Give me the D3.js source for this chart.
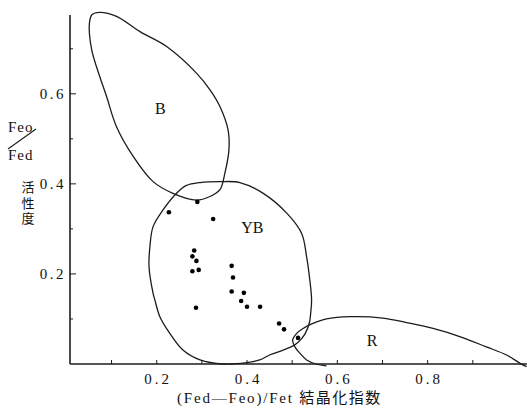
<!DOCTYPE html>
<html>
<head>
<meta charset="utf-8">
<script src="https://cdn.jsdelivr.net/npm/d3@7"></script>
<style>
  body { margin: 0; background: #fff; }
</style>
</head>
<body>
<div id="chart"></div>
<script>
// Sample points: (Fed-Feo)/Fet vs Feo/Fed
const pointsX = [0.227, 0.290, 0.325, 0.283, 0.279, 0.288, 0.279, 0.293, 0.366, 0.369,
                 0.366, 0.393, 0.387, 0.400, 0.429, 0.287, 0.471, 0.482, 0.513]
const pointsY = [0.337, 0.360, 0.322, 0.252, 0.239, 0.229, 0.206, 0.209, 0.218, 0.192,
                 0.161, 0.158, 0.140, 0.127, 0.127, 0.125, 0.090, 0.077, 0.058]

// Hand-drawn region outlines (traced)
const regionB = [
  [0.074, 0.781], [0.111, 0.772], [0.163, 0.738], [0.222, 0.705], [0.288, 0.646],
  [0.318, 0.609], [0.340, 0.572], [0.358, 0.520], [0.360, 0.476], [0.351, 0.424],
  [0.340, 0.387], [0.318, 0.372], [0.288, 0.364], [0.236, 0.379], [0.192, 0.405],
  [0.148, 0.461], [0.111, 0.527], [0.089, 0.594], [0.074, 0.638], [0.056, 0.698],
  [0.051, 0.757], [0.057, 0.776]
]
const regionYB = [
  [0.296, 0.403], [0.340, 0.405], [0.384, 0.403], [0.436, 0.379], [0.488, 0.335],
  [0.521, 0.290], [0.532, 0.238], [0.539, 0.187], [0.543, 0.142], [0.541, 0.113],
  [0.538, 0.091], [0.529, 0.068], [0.518, 0.053], [0.505, 0.042], [0.480, 0.031],
  [0.450, 0.020], [0.428, 0.009], [0.399, 0.003], [0.347, 0.000], [0.296, 0.009],
  [0.258, 0.031], [0.229, 0.068], [0.207, 0.105], [0.196, 0.142], [0.192, 0.157],
  [0.183, 0.216], [0.185, 0.261], [0.192, 0.305], [0.214, 0.342], [0.244, 0.379],
  [0.265, 0.396]
]
const regionR = [
  [0.576, -0.004], [0.553, 0.000], [0.532, 0.009], [0.517, 0.024], [0.506, 0.038],
  [0.501, 0.053], [0.510, 0.068], [0.524, 0.079], [0.546, 0.090], [0.576, 0.100],
  [0.628, 0.105], [0.701, 0.102], [0.753, 0.092], [0.812, 0.079], [0.871, 0.061],
  [0.930, 0.038], [0.975, 0.020], [1.004, 0.002], [1.019, -0.006]
]
const regionLabels = [
  { name: 'B', x: 0.208, y: 0.555 },
  { name: 'YB', x: 0.412, y: 0.290 },
  { name: 'R', x: 0.677, y: 0.040 }
]

const xMajor = [0.2, 0.4, 0.6, 0.8]
const xMinor = [0.1, 0.3, 0.5, 0.7, 0.9]
const yMajor = [0.2, 0.4, 0.6]
const yMinor = [0.1, 0.3, 0.5, 0.7]

const width = 527
const height = 411

const serif = "'Liberation Serif', 'Times New Roman', 'DejaVu Serif', serif"
const cjk = "'Noto Sans CJK JP', 'Noto Sans CJK SC', sans-serif"

const svg = d3.select('#chart').append('svg')
  .attr('width', width)
  .attr('height', height)
  .attr('font-family', serif)

const x = d3.scaleLinear().domain([0.008, 1.02]).range([70, 527])
const y = d3.scaleLinear().domain([0, 0.775]).range([364, 15])

const ink = '#1c1c1c'

// Axes
svg.append('line')
  .attr('x1', x(0.008)).attr('x2', x(1.02))
  .attr('y1', y(0)).attr('y2', y(0))
  .attr('stroke', ink).attr('stroke-width', 1.6)
svg.append('line')
  .attr('x1', x(0.008)).attr('x2', x(0.008))
  .attr('y1', y(0.775)).attr('y2', y(0))
  .attr('stroke', ink).attr('stroke-width', 1.6)

// x ticks point up, inside
svg.selectAll('.xtick')
  .data(xMajor.concat(xMinor))
  .enter().append('line')
  .attr('x1', d => x(d)).attr('x2', d => x(d))
  .attr('y1', y(0)).attr('y2', y(0) - 4)
  .attr('stroke', ink).attr('stroke-width', 1)

svg.selectAll('.xlabel')
  .data(xMajor)
  .enter().append('text')
  .attr('x', d => x(d) + 1.5)
  .attr('y', 384)
  .attr('text-anchor', 'middle')
  .attr('font-family', serif)
  .attr('font-size', 15)
  .attr('letter-spacing', 3)
  .attr('fill', '#111')
  .text(d => d.toFixed(1))

// y ticks point right, inside
svg.selectAll('.ytick')
  .data(yMajor)
  .enter().append('line')
  .attr('x1', x(0.008)).attr('x2', x(0.008) + 6)
  .attr('y1', d => y(d)).attr('y2', d => y(d))
  .attr('stroke', ink).attr('stroke-width', 1)
svg.selectAll('.ytickm')
  .data(yMinor)
  .enter().append('line')
  .attr('x1', x(0.008)).attr('x2', x(0.008) + 3)
  .attr('y1', d => y(d)).attr('y2', d => y(d))
  .attr('stroke', ink).attr('stroke-width', 1)

svg.selectAll('.ylabel')
  .data(yMajor)
  .enter().append('text')
  .attr('x', 66)
  .attr('y', d => y(d) + 5)
  .attr('text-anchor', 'end')
  .attr('font-family', serif)
  .attr('font-size', 15)
  .attr('letter-spacing', 2.5)
  .attr('fill', '#111')
  .text(d => d.toFixed(1))

// Region outlines
const line = d3.line()
  .x(d => x(d[0]))
  .y(d => y(d[1]))

svg.append('path')
  .attr('d', line.curve(d3.curveCatmullRomClosed.alpha(0.5))(regionB))
  .attr('fill', 'none').attr('stroke', ink).attr('stroke-width', 1.3)
svg.append('path')
  .attr('d', line.curve(d3.curveCatmullRomClosed.alpha(0.5))(regionYB))
  .attr('fill', 'none').attr('stroke', ink).attr('stroke-width', 1.3)
svg.append('path')
  .attr('d', line.curve(d3.curveCatmullRom.alpha(0.5))(regionR))
  .attr('fill', 'none').attr('stroke', ink).attr('stroke-width', 1.3)

svg.selectAll('.rlabel')
  .data(regionLabels)
  .enter().append('text')
  .attr('x', d => x(d.x))
  .attr('y', d => y(d.y))
  .attr('text-anchor', 'middle')
  .attr('font-family', serif)
  .attr('font-size', 16)
  .attr('fill', '#111')
  .text(d => d.name)

// Points
svg.selectAll('.pt')
  .data(pointsX)
  .enter().append('circle')
  .attr('cx', d => x(d))
  .attr('cy', (d, i) => y(pointsY[i]))
  .attr('r', 2.3)
  .attr('fill', '#000')

// Axis titles
const xt = svg.append('text')
  .attr('x', 177).attr('y', 403)
  .attr('font-size', 15)
  .attr('fill', '#111')
xt.append('tspan')
  .attr('font-family', serif)
  .attr('letter-spacing', 1.8)
  .text('(Fed—Feo)/Fet ')
xt.append('tspan')
  .attr('font-family', cjk)
  .attr('letter-spacing', 1.5)
  .text('結晶化指数')

svg.append('text')
  .attr('x', 8).attr('y', 132)
  .attr('font-family', serif)
  .attr('font-size', 15)
  .attr('letter-spacing', 1)
  .attr('fill', '#111')
  .text('Feo')
svg.append('line')
  .attr('x1', 8).attr('y1', 149)
  .attr('x2', 36).attr('y2', 129)
  .attr('stroke', ink).attr('stroke-width', 1.1)
svg.append('text')
  .attr('x', 8).attr('y', 160)
  .attr('font-family', serif)
  .attr('font-size', 15)
  .attr('letter-spacing', 1)
  .attr('fill', '#111')
  .text('Fed')

// vertical title written top to bottom
svg.append('text')
  .attr('x', 28).attr('y', 181)
  .attr('font-family', cjk)
  .attr('font-size', 13)
  .attr('fill', '#111')
  .attr('letter-spacing', 2.5)
  .style('writing-mode', 'vertical-rl')
  .style('text-orientation', 'upright')
  .text('活性度')
</script>
</body>
</html>
